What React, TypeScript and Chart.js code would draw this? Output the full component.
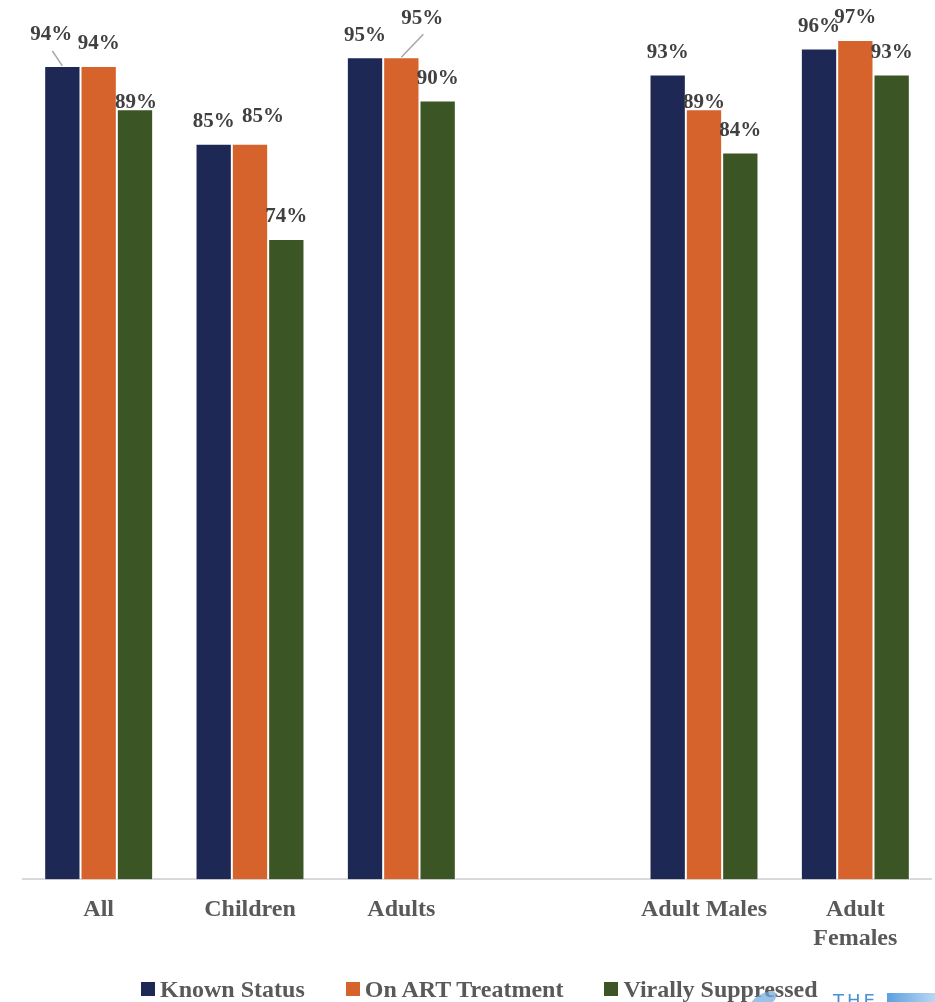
import React, { useEffect, useRef } from "react";
import { Chart, registerables } from "chart.js";

Chart.register(...registerables);

const categories: (string | string[])[] = ["All", "Children", "Adults", "", "Adult Males", ["Adult", "Females"]];
const knownStatus: (number | null)[] = [94, 85, 95, null, 93, 96];
const onArt: (number | null)[] = [94, 85, 95, null, 89, 97];
const viralSupp: (number | null)[] = [89, 74, 90, null, 84, 93];
const seriesNames = ["Known Status", "On ART Treatment", "Virally Suppressed"];
const seriesColors = ["#1d2855", "#d6622c", "#3b5524"];

// label nudges [dx, dy, leaderLine] relative to default placement above each bar
const labelNudges: [number, number, boolean][][] = [
  [[-11, -9, true], [0, 0, false], [0, 0, false], [0, 0, false], [0, 0, false], [0, 0, false]],
  [[0, 0, false], [13, -5, false], [21, -17, true], [0, 0, false], [0, 15, false], [0, 0, false]],
  [[1, 15, false], [0, 0, false], [0, 0, false], [0, 0, false], [0, 0, false], [0, 0, false]],
];

const FONT = "'Liberation Serif', 'Times New Roman', serif";

const valueLabels = {
  id: "valueLabels",
  afterDatasetsDraw(chart: any) {
    const ctx = chart.ctx;
    ctx.save();
    ctx.font = `bold 21px ${FONT}`;
    ctx.textAlign = "center";
    ctx.textBaseline = "middle";
    chart.data.datasets.forEach((ds: any, di: number) => {
      const meta = chart.getDatasetMeta(di);
      meta.data.forEach((bar: any, i: number) => {
        const v = ds.data[i];
        if (v == null) return;
        const [dx, dy, leader] = labelNudges[di][i];
        const lx = bar.x + dx;
        const ly = bar.y - 22 + dy;
        if (leader) {
          ctx.strokeStyle = "#a6a6a6";
          ctx.lineWidth = 1.5;
          ctx.beginPath();
          ctx.moveTo(bar.x, bar.y);
          ctx.lineTo(lx + 1, ly + 16);
          ctx.stroke();
        }
        ctx.fillStyle = "#404040";
        ctx.fillText(v + "%", lx, ly);
      });
    });
    ctx.restore();
  },
};

export default function App() {
  const ref = useRef<HTMLCanvasElement>(null);

  useEffect(() => {
    document.body.style.margin = "0";
    document.body.style.overflow = "hidden";
    const all = [knownStatus, onArt, viralSupp];
    const chart = new Chart(ref.current as HTMLCanvasElement, {
      type: "bar",
      data: {
        labels: categories as any,
        datasets: all.map((d, i) => ({
          label: seriesNames[i],
          data: d,
          backgroundColor: seriesColors[i],
          borderColor: "#ffffff",
          borderWidth: 1,
          borderSkipped: "bottom",
          categoryPercentage: 0.72,
          barPercentage: 1,
        })),
      },
      options: {
        responsive: false,
        animation: false,
        layout: { padding: { left: 23, right: 4, top: 14, bottom: 33 } },
        scales: {
          x: {
            grid: { display: false, drawTicks: false },
            border: { color: "#d9d9d9", width: 2 },
            ticks: {
              font: { family: FONT, size: 24, weight: "bold" },
              color: "#595959",
              padding: 16,
              maxRotation: 0,
              autoSkip: false,
            },
          },
          y: { display: false, min: 0, max: 100 },
        },
        plugins: {
          legend: { display: false },
          tooltip: { enabled: false },
        },
      },
      plugins: [valueLabels],
    });
    return () => chart.destroy();
  }, []);

  return (
    <div style={{ position: "relative", width: 935, height: 1002, overflow: "hidden", background: "#fff" }}>
      <canvas ref={ref} width={935} height={1002} style={{ position: "absolute", left: 0, top: 0 }} />
      <div
        style={{
          position: "absolute",
          left: 141,
          top: 976,
          display: "flex",
          alignItems: "center",
          gap: 41,
          fontFamily: FONT,
          fontWeight: "bold",
          fontSize: 24,
          color: "#595959",
          lineHeight: "26px",
          whiteSpace: "nowrap",
        }}
      >
        {seriesNames.map((n, i) => (
          <div key={n} style={{ display: "flex", alignItems: "center", gap: 5 }}>
            <span style={{ display: "inline-block", width: 14, height: 14, background: seriesColors[i] }} />
            <span>{n}</span>
          </div>
        ))}
      </div>
      <div
        style={{
          position: "absolute",
          left: 748,
          top: 994,
          width: 30,
          height: 14,
          borderRadius: "50%",
          background: "#6fa8dc",
          opacity: 0.7,
          transform: "rotate(-30deg)",
        }}
      />
      <div
        style={{
          position: "absolute",
          left: 833,
          top: 992,
          fontFamily: "'DejaVu Sans', sans-serif",
          fontSize: 18,
          letterSpacing: 3,
          color: "#4a90d9",
          lineHeight: "18px",
        }}
      >
        THE
      </div>
      <div
        style={{
          position: "absolute",
          left: 887,
          top: 993,
          width: 48,
          height: 12,
          background: "linear-gradient(90deg, #5d9fdf, #b9d7f2)",
        }}
      />
    </div>
  );
}
